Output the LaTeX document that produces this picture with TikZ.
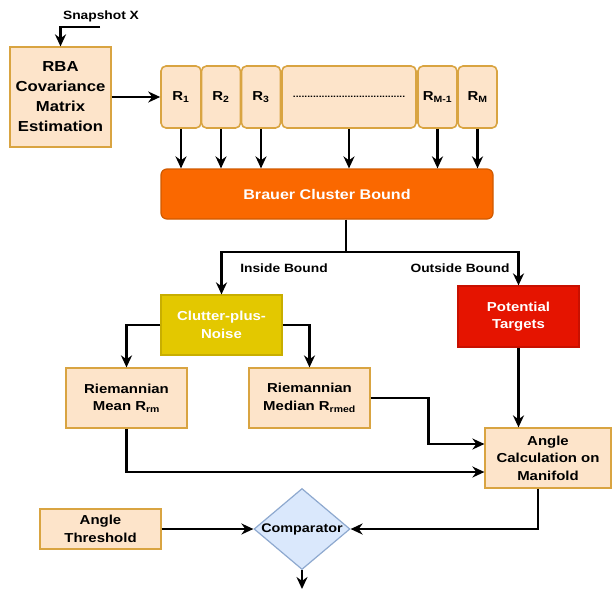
\documentclass[tikz,border=0pt]{standalone}
\usepackage{fontspec}
\setmainfont{Liberation Sans}[FakeStretch=1.15]
\usepackage{tikz}
\usetikzlibrary{arrows.meta,shapes.geometric,calc}
\definecolor{peach}{HTML}{FDE4CA}
\definecolor{peachline}{HTML}{D9A441}
\definecolor{brauerfill}{HTML}{FA6800}
\definecolor{brauerline}{HTML}{D05A00}
\definecolor{clutterfill}{HTML}{E3C800}
\definecolor{clutterline}{HTML}{C8AE00}
\definecolor{targetfill}{HTML}{E51400}
\definecolor{targetline}{HTML}{C81000}
\definecolor{compfill}{HTML}{DAE8FC}
\definecolor{compline}{HTML}{8EA9CF}
\tikzset{
  blk/.style={draw=peachline, fill=peach, line width=1.2pt, align=center,
    font=\bfseries\fontsize{13}{17.5}\selectfont, inner sep=2pt},
  cell/.style={blk, rounded corners=5pt, line width=1.6pt, minimum height=62pt},
  flow/.style={line width=2.6pt, -{Stealth[length=12pt,width=11pt]}},
  lbl/.style={font=\bfseries\fontsize{12}{14}\selectfont},
}

\begin{document}
\begin{tikzpicture}[x=1pt,y=-1pt]
\useasboundingbox[fill=white] (0,0) rectangle (612,589);

% estimation and the covariance cells
\node[lbl] (snaplbl) at (101,16) {Snapshot X};
\coordinate (snap) at (100,27);
\node[blk, minimum width=101pt, minimum height=100pt,
  font=\bfseries\fontsize{14.5}{20}\selectfont] (rba) at (60.5,97)
  {RBA\\Covariance\\Matrix\\Estimation};
\node[cell, minimum width=40pt] (r1) at (181,97) {R\textsubscript{1}};
\node[cell, minimum width=39pt] (r2) at (221,97) {R\textsubscript{2}};
\node[cell, minimum width=39pt] (r3) at (261,97) {R\textsubscript{3}};
\node[cell, minimum width=134pt, font=\bfseries\fontsize{9}{12}\selectfont] (rdots) at (349,97)
  {.......................................};
\node[cell, minimum width=39pt] (rm1) at (437.5,97) {R\textsubscript{M-1}};
\node[cell, minimum width=39pt] (rm) at (477.5,97) {R\textsubscript{M}};

% bound test
\node[blk, draw=brauerline, fill=brauerfill, text=white, rounded corners=6pt,
  minimum width=332pt, minimum height=50pt, font=\bfseries\fontsize{14}{17}\selectfont]
  (brauer) at (327,194) {Brauer Cluster Bound};
\coordinate (split) at (346,252);
\node[lbl] (inlbl) at (284,268) {Inside Bound};
\node[lbl] (outlbl) at (460,268) {Outside Bound};
\node[blk, draw=clutterline, fill=clutterfill, text=white, minimum width=121pt,
  minimum height=60pt] (clutter) at (221.5,325) {Clutter-plus-\\Noise};
\node[blk, draw=targetline, fill=targetfill, text=white, minimum width=121pt,
  minimum height=61pt] (target) at (518.5,316.5) {Potential\\Targets};

% manifold part
\node[blk, minimum width=121pt, minimum height=60pt] (mean) at (126.5,398)
  {Riemannian\\Mean R\textsubscript{rm}};
\node[blk, minimum width=121pt, minimum height=60pt] (median) at (309.5,398)
  {Riemannian\\Median R\textsubscript{rmed}};
\node[blk, minimum width=126pt, minimum height=60pt] (angle) at (548,458)
  {Angle\\Calculation on\\Manifold};
\node[blk, minimum width=121pt, minimum height=40pt] (thresh) at (100.5,529)
  {Angle\\Threshold};
\node[diamond, draw=compline, fill=compfill, line width=1.2pt, minimum width=96pt,
  minimum height=81pt, inner sep=0pt] (comp) at (302,529) {};
\node[lbl, font=\bfseries\fontsize{12.5}{14}\selectfont] (comptxt) at (comp) {Comparator};
\coordinate (out) at (302,589);

% connectors
\draw[flow] (snap) -| (rba.north);
\draw[flow] (rba.east) -- (r1.west);
\foreach \c in {r1,r2,r3,rdots,rm1,rm}
  \draw[flow] (\c.south) -- (\c.south |- brauer.north);
\draw[line width=2.6pt] (brauer.south -| split) -- (split);
\draw[flow] (split) -| (clutter.north);
\draw[flow] (split) -| (target.north);
\draw[flow] (clutter.west) -| (mean.north);
\draw[flow] (clutter.east) -| (median.north);
\draw[flow] (target.south) -- (target.south |- angle.north);
\draw[flow] (median.east) -- ++(58,0) |- ([yshift=14pt]angle.west);
\draw[flow] (mean.south) |- ([yshift=-14pt]angle.west);
\draw[flow] ([xshift=-10pt]angle.south) |- (comp.east);
\draw[flow] (thresh.east) -- (comp.west);
\draw[flow] (comp.south) -- (out);
\end{tikzpicture}
\end{document}
